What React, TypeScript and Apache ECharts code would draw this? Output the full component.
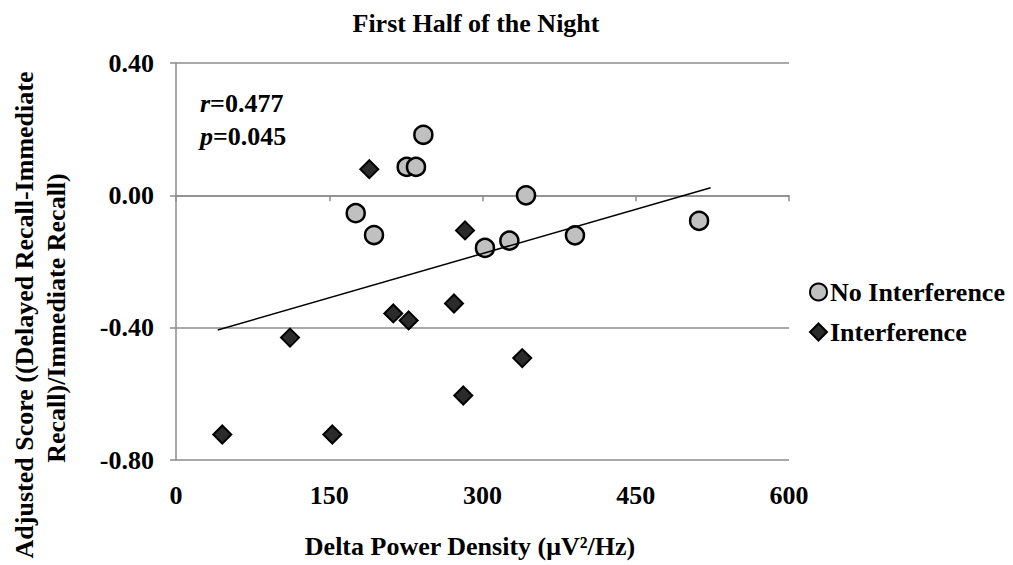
import React, { useEffect, useRef } from "react";
import * as echarts from "echarts";

const titleText = "First Half of the Night";
const xAxisTitle = "Delta Power Density (μV²/Hz)";
const yTitleLine1 = "Adjusted Score ((Delayed Recall-Immediate";
const yTitleLine2 = "Recall)/Immediate Recall)";
const seriesNames = ["No Interference", "Interference"];

const xTicks = { min: 0, max: 600, interval: 150 };
const yTicks = { min: -0.8, max: 0.4, interval: 0.4 };

const noInterference: [number, number][] = [
  [175.9, -0.054],
  [193.8, -0.12],
  [225.8, 0.086],
  [234.9, 0.086],
  [242.1, 0.183],
  [342.6, 0.0],
  [302.4, -0.159],
  [326.3, -0.137],
  [390.5, -0.121],
  [512.0, -0.077],
];

const interference: [number, number][] = [
  [189.2, 0.079],
  [282.9, -0.106],
  [45.3, -0.723],
  [111.6, -0.43],
  [153.0, -0.723],
  [212.7, -0.357],
  [227.7, -0.378],
  [272.1, -0.327],
  [281.2, -0.605],
  [338.9, -0.492],
];

const trendLine: [number, number][] = [
  [40.8, -0.407],
  [523.3, 0.023],
];

const statR = "0.477";
const statP = "0.045";

const FONT = "'Liberation Serif', 'Times New Roman', serif";
const GRID = "#8c8c8c";

export default function App() {
  const ref = useRef<HTMLDivElement>(null);
  useEffect(() => {
    if (!ref.current) return;
    const chart = echarts.init(ref.current, undefined, { renderer: "svg" });
    const axisLabelStyle = {
      fontFamily: FONT,
      fontWeight: "bold" as const,
      fontSize: 26,
      color: "#000",
    };
    chart.setOption({
      animation: false,
      backgroundColor: "#fff",
      textStyle: { fontFamily: FONT },
      grid: { left: 176, right: 224, top: 63, bottom: 105, containLabel: false },
      legend: {
        orient: "vertical",
        left: 804,
        top: 274,
        itemWidth: 17,
        itemHeight: 17,
        itemGap: 14,
        data: seriesNames,
        textStyle: { ...axisLabelStyle, padding: [0, 0, 0, -2] },
      },
      xAxis: [
        {
          type: "value",
          min: xTicks.min,
          max: xTicks.max,
          interval: xTicks.interval,
          position: "bottom",
          axisLine: { show: false, onZero: false },
          axisTick: { show: false },
          axisLabel: { ...axisLabelStyle, margin: 22 },
          splitLine: { show: false },
        },
        {
          type: "value",
          min: xTicks.min,
          max: xTicks.max,
          interval: xTicks.interval,
          position: "bottom",
          axisLine: { show: true, onZero: true, lineStyle: { color: GRID, width: 1.5 } },
          axisTick: { show: true, inside: false, length: 6, lineStyle: { color: GRID, width: 1.5 } },
          axisLabel: { show: false },
          splitLine: { show: false },
        },
      ],
      yAxis: {
        type: "value",
        min: yTicks.min,
        max: yTicks.max,
        interval: yTicks.interval,
        axisLine: { show: true, onZero: false, lineStyle: { color: GRID, width: 1.5 } },
        axisTick: { show: true, inside: false, length: 6, lineStyle: { color: GRID, width: 1.5 } },
        axisLabel: {
          ...axisLabelStyle,
          margin: 22,
          formatter: (v: number) => (Math.abs(v) < 1e-9 ? 0 : v).toFixed(2),
        },
        splitLine: { show: true, lineStyle: { color: GRID, width: 1.5 } },
      },
      series: [
        {
          name: seriesNames[0],
          type: "scatter",
          xAxisIndex: 0,
          data: noInterference,
          symbol: "circle",
          symbolSize: 18,
          itemStyle: { color: "#c0c0c0", borderColor: "#000", borderWidth: 2.5, opacity: 1 },
          z: 3,
        },
        {
          name: seriesNames[1],
          type: "scatter",
          xAxisIndex: 0,
          data: interference,
          symbol: "diamond",
          symbolSize: 18,
          itemStyle: { color: "#2b2b2b", borderColor: "#000", borderWidth: 2, opacity: 1 },
          z: 4,
        },
        {
          name: "trend",
          type: "line",
          xAxisIndex: 0,
          data: trendLine,
          symbol: "none",
          silent: true,
          lineStyle: { color: "#000", width: 1.5 },
          z: 5,
        },
      ],
      graphic: [
        {
          type: "text",
          x: 476,
          y: 23,
          style: {
            text: titleText,
            font: `bold 26px ${FONT}`,
            fill: "#000",
            textAlign: "center",
            textVerticalAlign: "middle",
          },
        },
        {
          type: "text",
          x: 470,
          y: 546,
          style: {
            text: xAxisTitle,
            font: `bold 26px ${FONT}`,
            fill: "#000",
            textAlign: "center",
            textVerticalAlign: "middle",
          },
        },
        {
          type: "text",
          x: 24,
          y: 315,
          rotation: Math.PI / 2,
          style: {
            text: yTitleLine1,
            font: `bold 26px ${FONT}`,
            fill: "#000",
            textAlign: "center",
            textVerticalAlign: "middle",
          },
        },
        {
          type: "text",
          x: 56,
          y: 318,
          rotation: Math.PI / 2,
          style: {
            text: yTitleLine2,
            font: `bold 26px ${FONT}`,
            fill: "#000",
            textAlign: "center",
            textVerticalAlign: "middle",
          },
        },
        {
          type: "text",
          x: 200,
          y: 103,
          style: {
            text: `{i|r}{b|=${statR}}`,
            textVerticalAlign: "middle",
            rich: {
              i: { fontFamily: FONT, fontWeight: "bold", fontStyle: "italic", fontSize: 26, fill: "#000" },
              b: { fontFamily: FONT, fontWeight: "bold", fontSize: 26, fill: "#000" },
            },
          },
        },
        {
          type: "text",
          x: 200,
          y: 136,
          style: {
            text: `{i|p}{b|=${statP}}`,
            textVerticalAlign: "middle",
            rich: {
              i: { fontFamily: FONT, fontWeight: "bold", fontStyle: "italic", fontSize: 26, fill: "#000" },
              b: { fontFamily: FONT, fontWeight: "bold", fontSize: 26, fill: "#000" },
            },
          },
        },
      ],
    });
    return () => chart.dispose();
  }, []);
  return (
    <div
      ref={ref}
      style={{ position: "absolute", left: 0, top: 0, width: 1013, height: 565, background: "#fff" }}
    />
  );
}
